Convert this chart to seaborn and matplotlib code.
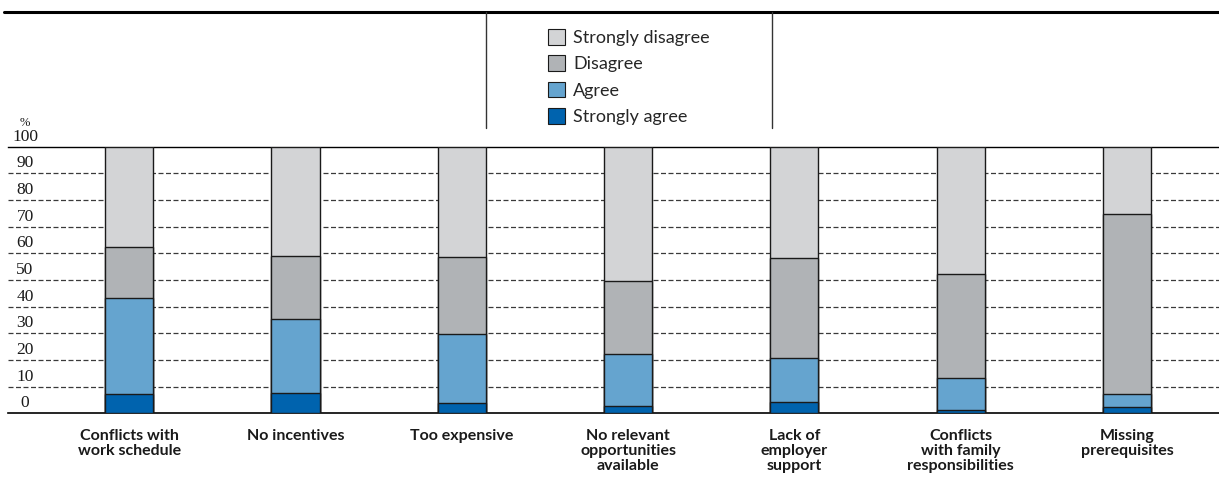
import numpy as np
import pandas as pd
import seaborn as sns
import matplotlib
matplotlib.use('Agg')
import matplotlib.pyplot as plt
from matplotlib.lines import Line2D
from matplotlib.patches import Patch
import matplotlib.transforms as mtransforms

# Data
categorias = ['Conflicts with\nwork schedule', 'No incentives', 'Too expensive',
              'No relevant\nopportunities\navailable', 'Lack of\nemployer\nsupport',
              'Conflicts\nwith family\nresponsibilities', 'Missing\nprerequisites']
strongly_agree = [7.1, 7.8, 3.8, 2.9, 4.1, 1.4, 2.4]
agree = [36.0, 27.5, 26.1, 19.3, 16.5, 11.7, 4.7]
disagree = [19.4, 23.6, 28.6, 27.4, 37.5, 39.1, 67.5]
strongly_disagree = [37.5, 41.1, 41.5, 50.4, 41.9, 47.8, 25.4]

series = ['Strongly agree', 'Agree', 'Disagree', 'Strongly disagree']
cores = {'Strongly agree': '#0063AE', 'Agree': '#65A4CF',
         'Disagree': '#B0B3B6', 'Strongly disagree': '#D3D4D6'}
y_ticks = [0, 10, 20, 30, 40, 50, 60, 70, 80, 90, 100]

base = pd.DataFrame({'categoria': categorias,
                     'Strongly agree': strongly_agree,
                     'Agree': agree,
                     'Disagree': disagree,
                     'Strongly disagree': strongly_disagree})
# acumulado para empilhar
acum = base[series].cumsum(axis=1)

sns.set_style('white')
plt.rcParams['font.family'] = ['Lato', 'DejaVu Sans']

fig = plt.figure(figsize=(12.19, 4.78), dpi=100)
ax = fig.add_axes([8 / 1219, 1 - 413.3 / 478, 1 - 8 / 1219, (413.3 - 146.7) / 478])

# barras do topo para baixo (sobrepostas)
for s in reversed(series):
    sns.barplot(x=base['categoria'], y=acum[s], color=cores[s], width=0.29,
                edgecolor='#1a1a1a', linewidth=1.0, saturation=1, ax=ax, zorder=3)

ax.set_ylim(0, 100)
ax.set_xlim(-0.728, 6.553)
ax.set_xlabel('')
ax.set_ylabel('')

# grade tracejada
for v in y_ticks[1:-1]:
    ax.axhline(v, color='#3a3a3a', lw=0.9, ls=(0, (4, 2)), zorder=1)

for sp in ['left', 'right']:
    ax.spines[sp].set_visible(False)
ax.spines['top'].set_color('black')
ax.spines['top'].set_linewidth(1.0)
ax.spines['bottom'].set_color('black')
ax.spines['bottom'].set_linewidth(1.2)

# rótulos do eixo y dentro da área, acima das linhas
ax.set_yticks([])
trans = mtransforms.blended_transform_factory(fig.transFigure, ax.transData)
off = mtransforms.ScaledTranslation(0, 1.5 / 72, fig.dpi_scale_trans)
for v in y_ticks:
    ax.text(25 / 1219, v, str(v), transform=trans + off, ha='center', va='bottom',
            fontsize=12.5, family='Liberation Serif', color='#1a1a1a')
fig.text(25 / 1219, 1 - 129 / 478, '%', ha='center', va='bottom', fontsize=9,
         family='Liberation Serif', color='#1a1a1a')

ax.tick_params(axis='x', length=0, pad=11)
ax.set_xticks(range(len(categorias)))
ax.set_xticklabels(categorias, fontsize=11.5, fontweight='bold', linespacing=1.12,
                   va='top', color='#1a1a1a')

# legenda
handles = [Patch(facecolor=cores[s], edgecolor='#1a1a1a', linewidth=0.8, label=s)
           for s in reversed(series)]
leg = fig.legend(handles=handles, loc='upper left', bbox_to_anchor=(548 / 1219, 1 - 29 / 478),
                 frameon=False, fontsize=13, handlelength=0.95, handleheight=0.95,
                 handletextpad=0.45, labelspacing=0.52, borderpad=0, borderaxespad=0)

# linhas decorativas do topo
fig.add_artist(Line2D([4 / 1219, 1], [1 - 11.5 / 478] * 2, color='black', lw=2.2))
for xp in [486, 772]:
    fig.add_artist(Line2D([xp / 1219] * 2, [1 - 12 / 478, 1 - 128 / 478], color='#333333', lw=1.0))

fig.savefig('out.png', dpi=100)
